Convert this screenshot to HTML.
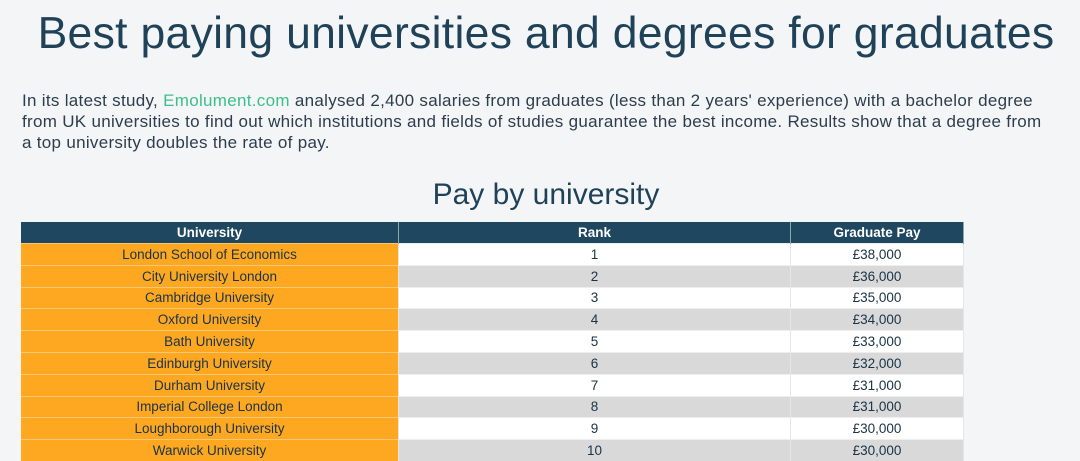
<!DOCTYPE html>
<html><head><meta charset="utf-8">
<style>
html,body{margin:0;padding:0;}
body{width:1080px;height:458px;overflow:hidden;background:#f4f5f7;font-family:"Liberation Sans","DejaVu Sans",sans-serif;color:#1f4258;position:relative;}
#title{position:absolute;left:0;width:1092px;top:9px;text-align:center;font-size:44.5px;font-weight:normal;margin:0;color:#1f4258;letter-spacing:0.3px;white-space:nowrap;}
#intro{position:absolute;left:22px;top:90px;width:1070px;font-size:17px;letter-spacing:0.3px;line-height:21px;color:#2d3d4d;margin:0;white-space:nowrap;}
#intro .link{color:#3dbf8a;}
#sub{position:absolute;left:0;width:1092px;top:178px;text-align:center;font-size:30px;margin:0;font-weight:normal;color:#1f4258;}
#tbl{position:absolute;left:21px;top:222px;border-collapse:collapse;font-size:13.5px;}
#tbl th{background:#1f4760;color:#fff;height:21px;padding:0;font-weight:bold;border-right:1px solid #8aa;}
#tbl td{height:20.8px;padding:0;text-align:center;border-top:1px solid #eee;border-right:1px solid #e6e6e6;color:#1a3346;}
#tbl td.u{background:#fea822;color:#1a3346;border-top:1px solid #f8c878;}
#tbl tr.odd td.o{background:#ffffff;}
#tbl tr.even td.o{background:#d9d9d9;}
</style></head><body>
<h1 id="title">Best paying universities and degrees for graduates</h1>
<p id="intro">In its latest study, <span class="link">Emolument.com</span> analysed 2,400 salaries from graduates (less than 2 years' experience) with a bachelor degree<br>from UK universities to find out which institutions and fields of studies guarantee the best income. Results show that a degree from<br>a top university doubles the rate of pay.</p>
<h2 id="sub">Pay by university</h2>
<table id="tbl">
<thead><tr>
<th style="width:377px">University</th>
<th style="width:391px">Rank</th>
<th style="width:172px">Graduate Pay</th>
</tr></thead>
<tbody id="tb"></tbody>
</table>
<script>
const universities=["London School of Economics","City University London","Cambridge University","Oxford University","Bath University","Edinburgh University","Durham University","Imperial College London","Loughborough University","Warwick University"];
const ranks=[1,2,3,4,5,6,7,8,9,10];
const pays=[38000,36000,35000,34000,33000,32000,31000,31000,30000,30000];
const tb=document.getElementById('tb');
for(let i=0;i<universities.length;i++){
  const tr=document.createElement('tr');
  tr.className=i%2===0?'odd':'even';
  
  
  const a=document.createElement('td');a.className='u';a.textContent=universities[i];
  
  
  const b=document.createElement('td');b.className='o';b.textContent=ranks[i];
  
  
  const c=document.createElement('td');c.className='o';c.textContent='£'+pays[i].toLocaleString('en-GB');
  
  
  tr.appendChild(a);tr.appendChild(b);tr.appendChild(c);tb.appendChild(tr);
}
</script>
</body></html>
